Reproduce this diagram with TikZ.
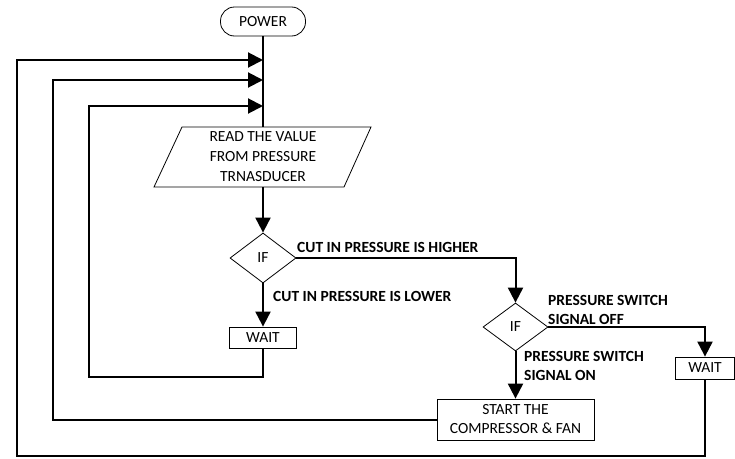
\documentclass[tikz,border=0pt]{standalone}
\usepackage{fontspec}
\setmainfont{Carlito}
\usetikzlibrary{arrows.meta,shapes.geometric}
\begin{document}
\begin{tikzpicture}[x=1pt,y=-1pt,
  line/.style={line width=2pt},
  arr/.style={line width=2pt,-{Triangle[length=15pt,width=15pt]}},
  box/.style={draw,line width=0.8pt,rectangle,inner sep=0pt,align=center},
  dia/.style={draw,line width=0.8pt,diamond,inner sep=0pt,minimum width=66pt,minimum height=50pt},
  lbl/.style={font=\bfseries\fontsize{15.5}{19}\selectfont,align=left,inner sep=0pt},
  every node/.style={font=\fontsize{15.5}{20}\selectfont}]
\useasboundingbox (0,0) rectangle (735,458);
% nodes
\node[box,rounded corners=14pt,minimum width=85pt,minimum height=29pt] (power) at (263,21.5) {POWER};
\node[align=center,inner sep=0pt,minimum width=190pt,minimum height=60pt] (read) at (263,157) {READ THE VALUE\\FROM PRESSURE\\TRNASDUCER};
\draw[line width=0.8pt] (182,127) -- (371,127) -- (344,187) -- (154,187) -- cycle;
\node[dia] (dia1) at (263,258) {IF};
\node[box,minimum width=67pt,minimum height=21pt] (wait1) at (263,337.5) {WAIT};
\node[dia,minimum width=65pt,minimum height=48pt] (dia2) at (515.5,327) {IF};
\node[box,minimum width=59pt,minimum height=22pt] (wait2) at (705,368) {WAIT};
\node[box,minimum width=157pt,minimum height=41pt,font=\fontsize{15.5}{19}\selectfont] (start) at (515.5,419.5) {START THE\\COMPRESSOR \& FAN};
% labels
\node[lbl,anchor=base west] (l1) at (297,252.5) {CUT IN PRESSURE IS HIGHER};
\node[lbl,anchor=base west] (l2) at (273,301.7) {CUT IN PRESSURE IS LOWER};
\node[lbl,anchor=base west] (l3) at (548,324.5) {PRESSURE SWITCH\\SIGNAL OFF};
\node[lbl,anchor=base west] (l4) at (524,380) {PRESSURE SWITCH\\SIGNAL ON};
% junctions
\coordinate (j1) at (263,60);
\coordinate (j2) at (263,80);
\coordinate (j3) at (263,106);
\coordinate (c1) at (89,377);
\coordinate (c2) at (53,419.5);
\coordinate (c3) at (17,456);
% connectors
\draw[line] (power.south) -- (read.north);
\draw[arr] (read.south) -- (dia1.north);
\draw[arr] (dia1.south) -- (wait1.north);
\draw[arr] (dia1.east) -| (dia2.north);
\draw[arr] (dia2.east) -| (wait2.north);
\draw[arr] (dia2.south) -- (start.north);
\draw[arr] (wait1.south) |- (c1) |- (j3);
\draw[arr] (start.west) -- (c2) |- (j2);
\draw[arr] (wait2.south) |- (c3) |- (j1);
\end{tikzpicture}
\end{document}
